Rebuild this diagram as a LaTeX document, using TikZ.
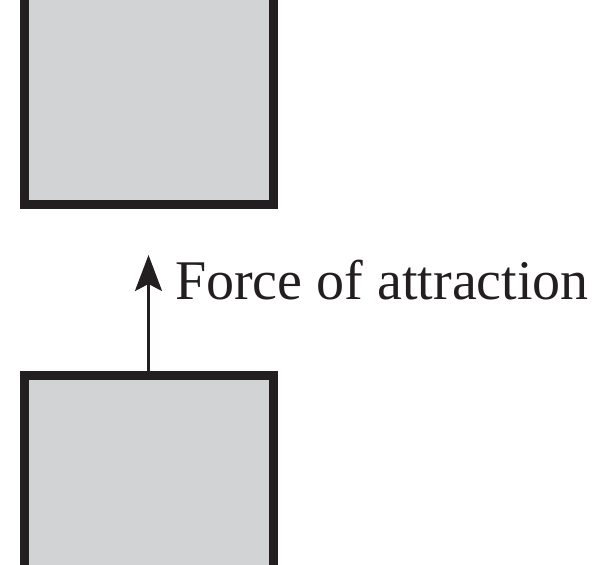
\documentclass[tikz,border=0pt]{standalone}
\usepackage{fontspec}
\setmainfont{Liberation Serif}
\usetikzlibrary{arrows.meta, positioning}
\definecolor{boxgray}{RGB}{210,211,213}
\definecolor{inkdark}{RGB}{35,31,32}

\begin{document}
\begin{tikzpicture}[
    x=1pt, y=1pt,
    block/.style={rectangle, draw=inkdark, fill=boxgray, line width=9pt,
    minimum width=249pt, outer sep=0pt, inner sep=0pt},
    arrow/.style={-{Stealth[length=36pt, width=27pt, inset=7pt]}, line width=3pt, draw=inkdark}
]
\useasboundingbox (0,0) rectangle (596,564);
\clip (0,0) rectangle (596,564);

% ---------------- BLOCKS ----------------
\node[block, minimum height=261pt] (upper) at (148.5,489.5) {};
\node[block, minimum height=258pt] (lower) at (148.5,59) {};

% ---------------- FORCE ----------------
\coordinate (tip) at (148.5,309);
\draw[arrow] (lower.north) -- (tip);

% Label
\node[anchor=base west, inner sep=0pt, text=inkdark] (label) at (175,264)
{\fontsize{56}{60}\selectfont Force of attraction};

\end{tikzpicture}
\end{document}
